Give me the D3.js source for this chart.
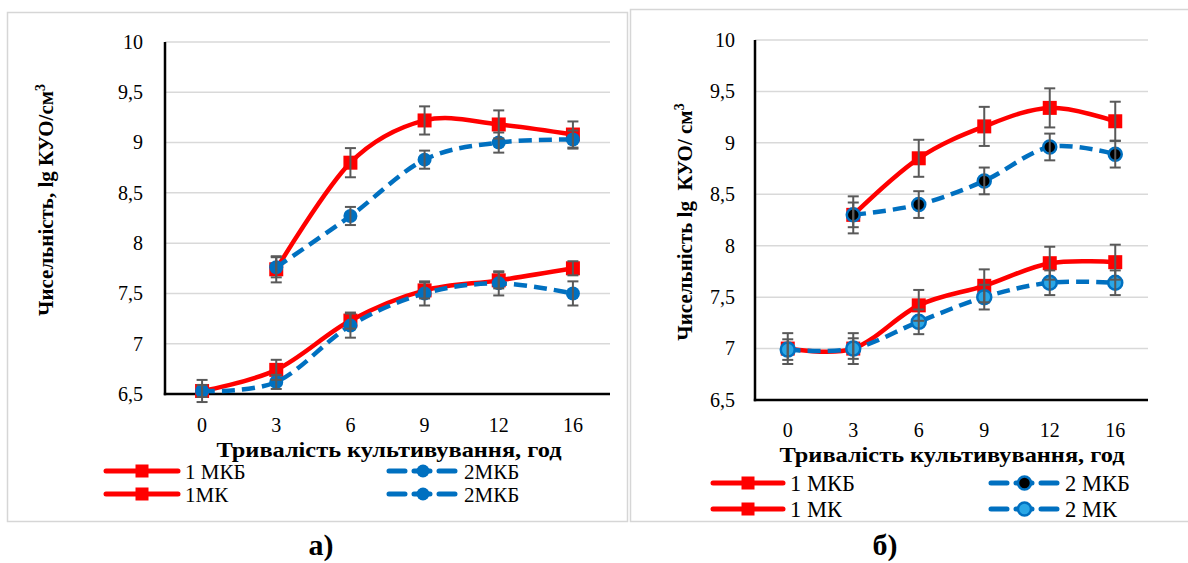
<!DOCTYPE html>
<html><head><meta charset="utf-8">
<script src="https://cdn.jsdelivr.net/npm/d3@7"></script>
<style>body{margin:0;background:#fff;} svg{display:block;}</style>
</head><body>
<svg id="c" width="1188" height="563"></svg>
<script>
// ---------- DATA ----------
const categories = ["0","3","6","9","12","16"];
const yTicks = [6.5,7,7.5,8,8.5,9,9.5,10];
const yTickLabels = ["6,5","7","7,5","8","8,5","9","9,5","10"];

// panel а)
const a1MKB    = [null, 7.74, 8.80, 9.22, 9.18, 9.08];
const a1MKBErr = [null, 0.13, 0.145, 0.14, 0.14, 0.13];
const a2MKB    = [null, 7.76, 8.27, 8.83, 9.00, 9.03];
const a2MKBErr = [null, 0.10, 0.09, 0.09, 0.10, 0.09];
const a1MK     = [6.53, 6.74, 7.23, 7.53, 7.63, 7.75];
const a1MKErr  = [0.11, 0.10, 0.08, 0.08, 0.08, 0.07];
const a2MK     = [6.53, 6.62, 7.18, 7.50, 7.60, 7.50];
const a2MKErr  = [0.06, 0.07, 0.12, 0.12, 0.12, 0.12];
const aLegend  = ["1 МКБ", "2МКБ", "1МК", "2МКБ"];

// panel б)
const b1MKB    = [null, 8.30, 8.85, 9.16, 9.34, 9.21];
const b1MKBErr = [null, 0.18, 0.18, 0.19, 0.19, 0.19];
const b2MKB    = [null, 8.30, 8.40, 8.63, 8.96, 8.89];
const b2MKBErr = [null, 0.12, 0.13, 0.13, 0.13, 0.13];
const b1MK     = [7.00, 7.00, 7.42, 7.61, 7.83, 7.84];
const b1MKErr  = [0.15, 0.15, 0.15, 0.16, 0.16, 0.17];
const b2MK     = [6.99, 7.00, 7.26, 7.50, 7.64, 7.64];
const b2MKErr  = [0.10, 0.10, 0.12, 0.12, 0.12, 0.12];
const bLegend  = ["1 МКБ", "2 МКБ", "1 МК", "2 МК"];

const xTitle = "Тривалість культивування, год";
const yTitleA = "Чисельність, lg КУО/см";
const yTitleB = "Чисельність lg\u00A0\u00A0КУО/ см";

// ---------- STYLE ----------
const RED = "#ff0000", BLUE = "#0070c0", LIGHTBLUE = "#2aa7e6", ERR = "#595959";
const SERIF = "Liberation Serif";

const svg = d3.select("#c");

// page frames
svg.append("rect").attr("x",7.5).attr("y",12.5).attr("width",620).attr("height",509)
  .attr("fill","none").attr("stroke","#d6d6d6").attr("stroke-width",1.5);
svg.append("rect").attr("x",630.5).attr("y",9.5).attr("width",600).attr("height",512)
  .attr("fill","none").attr("stroke","#d6d6d6").attr("stroke-width",1.5);

function panel(cfg){
  const g = svg.append("g");
  const x = d3.scaleBand().domain(categories).range([cfg.x0, cfg.x1]);
  const cx = d => x(d) + x.bandwidth()/2;
  const y = d3.scaleLinear().domain([6.5,10]).range([cfg.yBot, cfg.yTop]);

  // gridlines
  g.append("g").selectAll("line").data(yTicks.slice(1)).join("line")
    .attr("x1",cfg.x0).attr("x2",cfg.x1).attr("y1",d=>y(d)).attr("y2",d=>y(d))
    .attr("stroke","#d9d9d9").attr("stroke-width",1.5);

  // y axis (labels)
  const yAxis = d3.axisLeft(y).tickValues(yTicks)
    .tickFormat((d,i)=>yTickLabels[i]).tickSize(0).tickPadding(cfg.x0 - cfg.yLabelRight);
  const ya = g.append("g").attr("transform",`translate(${cfg.x0},0)`).call(yAxis);
  ya.select(".domain").remove();
  ya.attr("font-family",SERIF).attr("font-size",20);
  ya.selectAll("text").attr("font-family",SERIF).attr("font-size",20).attr("fill","#000");

  // x axis (labels)
  const xAxis = d3.axisBottom(x).tickSize(0).tickPadding(cfg.xLabelPad);
  const xa = g.append("g").attr("transform",`translate(0,${cfg.yBot})`).call(xAxis);
  xa.select(".domain").remove();
  xa.attr("font-family",SERIF).attr("font-size",20);
  xa.selectAll("text").attr("font-family",SERIF).attr("font-size",20).attr("fill","#000");

  // axis lines
  g.append("line").attr("x1",cfg.x0).attr("x2",cfg.x0).attr("y1",cfg.yTop).attr("y2",cfg.yBot+1.2)
    .attr("stroke","#000").attr("stroke-width",2.5);
  g.append("line").attr("x1",cfg.x0-1.2).attr("x2",cfg.x1).attr("y1",cfg.yBot).attr("y2",cfg.yBot)
    .attr("stroke","#000").attr("stroke-width",2.5);

  const line = d3.line().defined(d=>d.v!=null).x(d=>cx(d.c)).y(d=>y(d.v))
    .curve(d3.curveCardinal.tension(0));

  cfg.series.forEach(s=>{
    const pts = categories.map((c,i)=>({c, v:s.vals[i], e:s.errs[i]}));
    s.pts = pts;
    const p = g.append("path").attr("d",line(pts)).attr("fill","none")
      .attr("stroke",s.color).attr("stroke-width",4.5).attr("stroke-linecap", s.dashed ? "butt":"round");
    if (s.dashed) p.attr("stroke-dasharray","13,7");
    const m = pts.filter(d=>d.v!=null);
    if (s.marker==="square"){
      g.append("g").selectAll("rect").data(m).join("rect")
        .attr("x",d=>cx(d.c)-7).attr("y",d=>y(d.v)-7).attr("width",14).attr("height",14)
        .attr("fill",RED);
    } else {
      g.append("g").selectAll("circle").data(m).join("circle")
        .attr("cx",d=>cx(d.c)).attr("cy",d=>y(d.v)).attr("r",s.r||7)
        .attr("fill",s.fill).attr("stroke",s.stroke||"none").attr("stroke-width",s.sw||0);
    }
  });

  // error bars on top
  cfg.series.forEach(s=>{
    const m = s.pts.filter(d=>d.v!=null);
    const eg = g.append("g").attr("stroke",ERR).attr("stroke-width",2);
    eg.selectAll("line.v").data(m).join("line").attr("class","v")
      .attr("x1",d=>cx(d.c)).attr("x2",d=>cx(d.c)).attr("y1",d=>y(d.v+d.e)).attr("y2",d=>y(d.v-d.e));
    eg.selectAll("line.t").data(m).join("line").attr("class","t")
      .attr("x1",d=>cx(d.c)-5.5).attr("x2",d=>cx(d.c)+5.5).attr("y1",d=>y(d.v+d.e)).attr("y2",d=>y(d.v+d.e));
    eg.selectAll("line.b").data(m).join("line").attr("class","b")
      .attr("x1",d=>cx(d.c)-5.5).attr("x2",d=>cx(d.c)+5.5).attr("y1",d=>y(d.v-d.e)).attr("y2",d=>y(d.v-d.e));
  });

  // y title
  const yt = g.append("text").attr("transform",`translate(${cfg.yTitleX},${cfg.yTitleY}) rotate(-90)`)
    .attr("text-anchor","middle").attr("font-family",SERIF).attr("font-size",21).attr("font-weight","bold");
  yt.append("tspan").text(cfg.yTitle);
  yt.append("tspan").attr("dy",-8).attr("font-size",14).text("3");

  // x title
  g.append("text").attr("x",cfg.xTitleX).attr("y",cfg.xTitleY).attr("text-anchor","middle")
    .attr("font-family",SERIF).attr("font-size",21).attr("font-weight","bold")
    .attr("textLength",345).attr("lengthAdjust","spacingAndGlyphs").text(xTitle);

  // legend
  cfg.series.forEach((s,i)=>{
    const col = i % 2;
    const lx0 = cfg.legCols[col][0], lx1 = cfg.legCols[col][1];
    const ly = cfg.legRows[Math.floor(i/2)];
    const lg = g.append("g");
    const ln = lg.append("line").attr("x1",lx0).attr("x2",lx1).attr("y1",ly).attr("y2",ly)
      .attr("stroke",s.color).attr("stroke-width",5);
    const mid = (lx0+lx1)/2;
    if (s.dashed){
      ln.attr("stroke-dasharray","16,9").attr("stroke-linecap","round");
      lg.append("circle").attr("cx",mid).attr("cy",ly).attr("r",6.5)
        .attr("fill",s.fill).attr("stroke",s.stroke||"none").attr("stroke-width",s.sw||0);
    } else {
      ln.attr("stroke-linecap","round");
      lg.append("rect").attr("x",mid-6.5).attr("y",ly-6.5).attr("width",13).attr("height",13).attr("fill",RED);
    }
    lg.append("text").attr("x",lx1+cfg.legGap).attr("y",ly+7.5).attr("font-family",SERIF).attr("font-size",cfg.legFont)
      .attr("fill","#000").text(cfg.legend[i]);
  });

  // caption
  g.append("text").attr("x",cfg.capX).attr("y",555).attr("text-anchor","middle")
    .attr("font-family",SERIF).attr("font-size",30).attr("font-weight","bold").text(cfg.caption);
}

panel({
  x0:165, x1:610, yTop:42, yBot:394, yLabelRight:143, xLabelPad:24,
  yTitle:yTitleA, yTitleX:53, yTitleY:200,
  xTitleX:389, xTitleY:457,
  legCols:[[106,178],[389,457]], legRows:[471,494], legGap:7, legFont:21,
  legend:aLegend, caption:"а)", capX:321,
  series:[
    {vals:a1MKB, errs:a1MKBErr, color:RED, marker:"square"},
    {vals:a2MKB, errs:a2MKBErr, color:BLUE, dashed:true, marker:"circle", fill:BLUE, r:7},
    {vals:a1MK,  errs:a1MKErr,  color:RED, marker:"square"},
    {vals:a2MK,  errs:a2MKErr,  color:BLUE, dashed:true, marker:"circle", fill:BLUE, r:7}
  ]
});

panel({
  x0:755, x1:1148, yTop:40, yBot:400, yLabelRight:735, xLabelPad:23,
  yTitle:yTitleB, yTitleX:692, yTitleY:222,
  xTitleX:952, xTitleY:462,
  legCols:[[713,783],[991,1058]], legRows:[483,509], legGap:7, legFont:22.5,
  legend:bLegend, caption:"б)", capX:885,
  series:[
    {vals:b1MKB, errs:b1MKBErr, color:RED, marker:"square"},
    {vals:b2MKB, errs:b2MKBErr, color:BLUE, dashed:true, marker:"circle", fill:"#000", stroke:BLUE, sw:2.5, r:6.5},
    {vals:b1MK,  errs:b1MKErr,  color:RED, marker:"square"},
    {vals:b2MK,  errs:b2MKErr,  color:BLUE, dashed:true, marker:"circle", fill:LIGHTBLUE, stroke:BLUE, sw:2.5, r:7}
  ]
});
</script>
</body></html>
